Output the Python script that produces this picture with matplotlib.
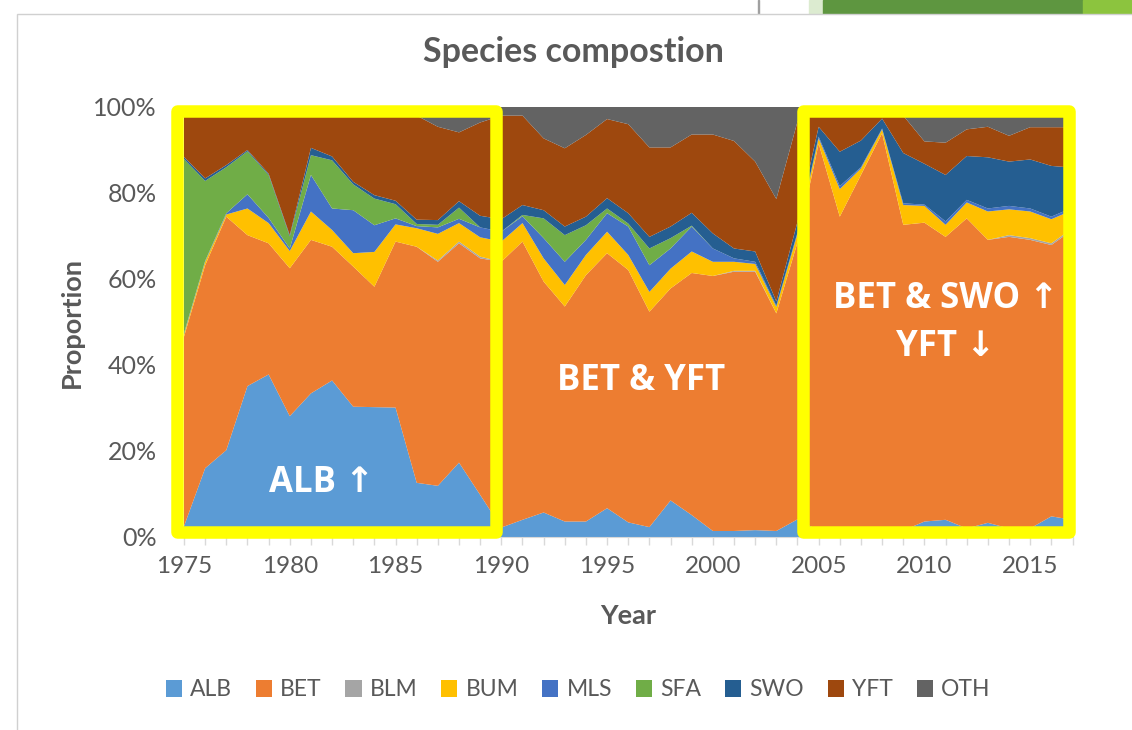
import numpy as np
import matplotlib
matplotlib.use('Agg')
import matplotlib.pyplot as plt
from matplotlib.patches import Rectangle, Patch
from matplotlib.ticker import PercentFormatter

plt.rcParams['font.family'] = ['Lato', 'DejaVu Sans']

# species composition (%), 1975-2017
years = list(range(1975, 2018))
species = ['ALB', 'BET', 'BLM', 'BUM', 'MLS', 'SFA', 'SWO', 'YFT', 'OTH']
colors  = ['#5B9BD5', '#ED7D31', '#A5A5A5', '#FFC000', '#4472C4',
           '#70AD47', '#255E91', '#9E480E', '#636363']

ALB = [2.5, 16.0, 20.2, 35.1, 37.8, 28.1, 33.4, 36.4, 30.3, 30.2, 30.1, 12.6, 11.9, 17.3, 9.8,
       2.2, 4.0, 5.7, 3.6, 3.6, 6.7, 3.4, 2.3, 8.5, 5.1, 1.4, 1.4, 1.6, 1.4, 4.1,
       1.5, 1.5, 1.5, 1.5, 1.5, 3.6, 4.0, 2.0, 3.3, 2.0, 2.0, 4.8, 4.0]
BET = [44.1, 47.2, 54.3, 35.1, 30.5, 34.4, 35.7, 31.1, 32.6, 28.0, 38.6, 54.9, 52.1, 51.0, 55.0,
       61.8, 64.7, 53.7, 50.0, 57.3, 59.3, 58.7, 50.1, 49.3, 56.3, 59.3, 60.3, 60.1, 50.6, 64.4,
       90.0, 73.0, 82.7, 92.4, 71.1, 69.5, 65.8, 72.1, 65.8, 67.8, 67.1, 63.1, 67.4]
BLM = [0, 0, 0, 0, 0, 0, 0, 0, 0, 0, 0, 0, 0.3, 0.4, 0.4,
       0, 0, 0, 0, 0, 0, 0, 0, 0, 0, 0, 0.2, 0.2, 0, 0,
       0, 0, 0, 0, 0, 0, 0, 0, 0, 0.4, 0.4, 0.4, 0.4]
BUM = [0.5, 0.8, 0.5, 6.2, 4.7, 4.0, 6.6, 3.9, 3.1, 8.1, 4.0, 4.3, 6.2, 4.3, 4.5,
       4.7, 4.3, 5.4, 5.0, 4.7, 5.0, 3.5, 4.6, 4.6, 5.0, 3.3, 2.1, 1.6, 1.5, 2.0,
       1.2, 6.4, 1.5, 0.9, 4.6, 3.9, 2.8, 3.7, 6.6, 6.0, 6.2, 5.6, 4.2]
MLS = [0.3, 0.2, 0.3, 3.3, 1.2, 0.6, 8.5, 5.0, 10.0, 6.2, 1.4, 0.5, 1.5, 1.0, 2.3,
       2.3, 1.6, 4.7, 5.4, 3.5, 4.3, 6.6, 6.2, 4.7, 5.8, 3.1, 0.8, 0.5, 0.3, 0.3,
       0.4, 0.7, 0.3, 0.2, 0.4, 0.3, 0.8, 0.6, 0.7, 0.8, 0.7, 0.6, 0.6]
SFA = [40.5, 18.6, 10.7, 10.0, 10.0, 2.8, 4.6, 11.2, 6.0, 6.2, 3.3, 0.5, 0.6, 2.6, 0.0,
       0.0, 0.3, 4.6, 6.2, 3.4, 1.1, 0.7, 3.9, 2.4, 0.2, 0, 0, 0, 0, 0,
       0, 0, 0, 0, 0, 0, 0, 0, 0, 0, 0, 0, 0]
SWO = [0.5, 0.6, 0.5, 0.3, 0.3, 0.3, 1.7, 0.9, 0.6, 0.8, 0.8, 1.0, 1.1, 1.5, 2.7,
       2.9, 2.3, 1.9, 2.0, 2.0, 2.4, 2.4, 2.7, 2.7, 3.0, 3.5, 2.3, 2.4, 1.0, 2.5,
       2.3, 8.0, 6.2, 2.3, 11.7, 9.5, 10.8, 10.2, 11.9, 10.3, 11.4, 11.8, 9.3]
YFT = [11.6, 16.6, 13.5, 10.0, 15.5, 29.8, 9.5, 11.5, 17.4, 20.5, 21.8, 24.2, 21.7, 16.0, 21.7,
       24.1, 20.8, 16.7, 18.2, 19.0, 18.4, 20.7, 20.8, 18.4, 18.2, 23.0, 25.0, 20.9, 23.8, 23.3,
       4.6, 10.4, 7.0, 2.7, 8.7, 5.2, 7.5, 6.2, 7.1, 6.0, 7.5, 9.0, 9.4]
OTH = [0, 0, 0, 0, 0, 0, 0, 0, 0, 0, 0, 2.0, 4.6, 5.9, 3.6,
       2.0, 2.0, 7.3, 9.6, 6.5, 2.8, 4.0, 9.4, 9.4, 6.4, 6.4, 7.9, 12.7, 21.4, 3.4,
       0, 0, 0.8, 0, 2.0, 8.0, 8.3, 5.2, 4.6, 6.7, 4.7, 4.7, 4.7]

txt = '#595959'

fig = plt.figure(figsize=(11.32, 7.30), dpi=100, facecolor='white')

# slide background bits peeking out at the top
H = 730
bg = [Rectangle((809, H-14), 14, 14, color='#dcebd0'),
      Rectangle((823, H-14), 260, 14, color='#5e9640'),
      Rectangle((1083, H-14), 49, 14, color='#8cc43e'),
      Rectangle((757.5, H-14), 1, 14, color='#a0a0a0'),
      Rectangle((17, -5), 1200, H-14+5, facecolor='white', edgecolor='#d0d0d0', linewidth=1)]
for p in bg:
    p.set_transform(None)
    p.set_zorder(-5)
    fig.patches.append(p)

ax = fig.add_axes([184/1132, (H-537)/H, 888.5/1132, 430/H])
ax.patch.set_alpha(0)
ax.stackplot(years, ALB, BET, BLM, BUM, MLS, SFA, SWO, YFT, OTH,
             colors=colors, labels=species, linewidth=0)

ax.set_xlim(1975, 2017)
ax.set_ylim(0, 100)
ax.yaxis.set_major_formatter(PercentFormatter(decimals=0))
ax.set_yticks(np.arange(0, 101, 20))
ax.set_xticks(years)
ax.set_xticklabels([str(y) if y % 5 == 0 else '' for y in years])
ax.tick_params(axis='y', length=0, pad=19.5, labelsize=18, labelcolor=txt)
ax.tick_params(axis='x', length=6, width=1, color='#d9d9d9', pad=8, labelsize=17.5, labelcolor=txt)
for s in ['top', 'right', 'left']:
    ax.spines[s].set_visible(False)
ax.spines['bottom'].set_color('#d9d9d9')
ax.grid(axis='y', color='#d9d9d9', linewidth=1)
ax.set_axisbelow(True)

fig.text(573/1132, 1-52/H, 'Species compostion', ha='center', va='center',
         fontsize=24.5, fontweight='bold', color=txt)
fig.text(628/1132, 1-616/H, 'Year', ha='center', va='center',
         fontsize=19.5, fontweight='bold', color=txt)
fig.text(72/1132, 1-322/H, 'Proportion', ha='center', va='center', rotation=90,
         fontsize=19.5, fontweight='bold', color=txt)

# highlight boxes
for x0, x1 in [(1974.69, 1989.77), (2004.25, 2016.82)]:
    ax.add_patch(Rectangle((x0, 1.1), x1-x0, 97.9, fill=False, edgecolor='#FFFF00',
                           linewidth=9, joinstyle='round', clip_on=False, zorder=5))

ann = dict(ha='center', va='center', color='white', fontsize=25, fontweight='bold',
           family=['Open Sans', 'DejaVu Sans'], zorder=6)
ax.text(1981.5, 12.6, 'ALB ↑', **ann)
ax.text(1996.6, 36.2, 'BET & YFT', **ann)
ax.text(2011.0, 55.3, 'BET & SWO ↑', **ann)
ax.text(2011.0, 44.3, 'YFT ↓', **ann)

handles = [Patch(facecolor=c, label=s) for c, s in zip(colors, species)]
fig.legend(handles=handles, loc='center', bbox_to_anchor=(578/1132, 1-690/H), ncol=9,
           frameon=False, fontsize=16.5, labelcolor=txt, handlelength=0.7, handleheight=0.7,
           handletextpad=0.35, columnspacing=1.05)

fig.savefig('out.png', dpi=100, facecolor='white')
